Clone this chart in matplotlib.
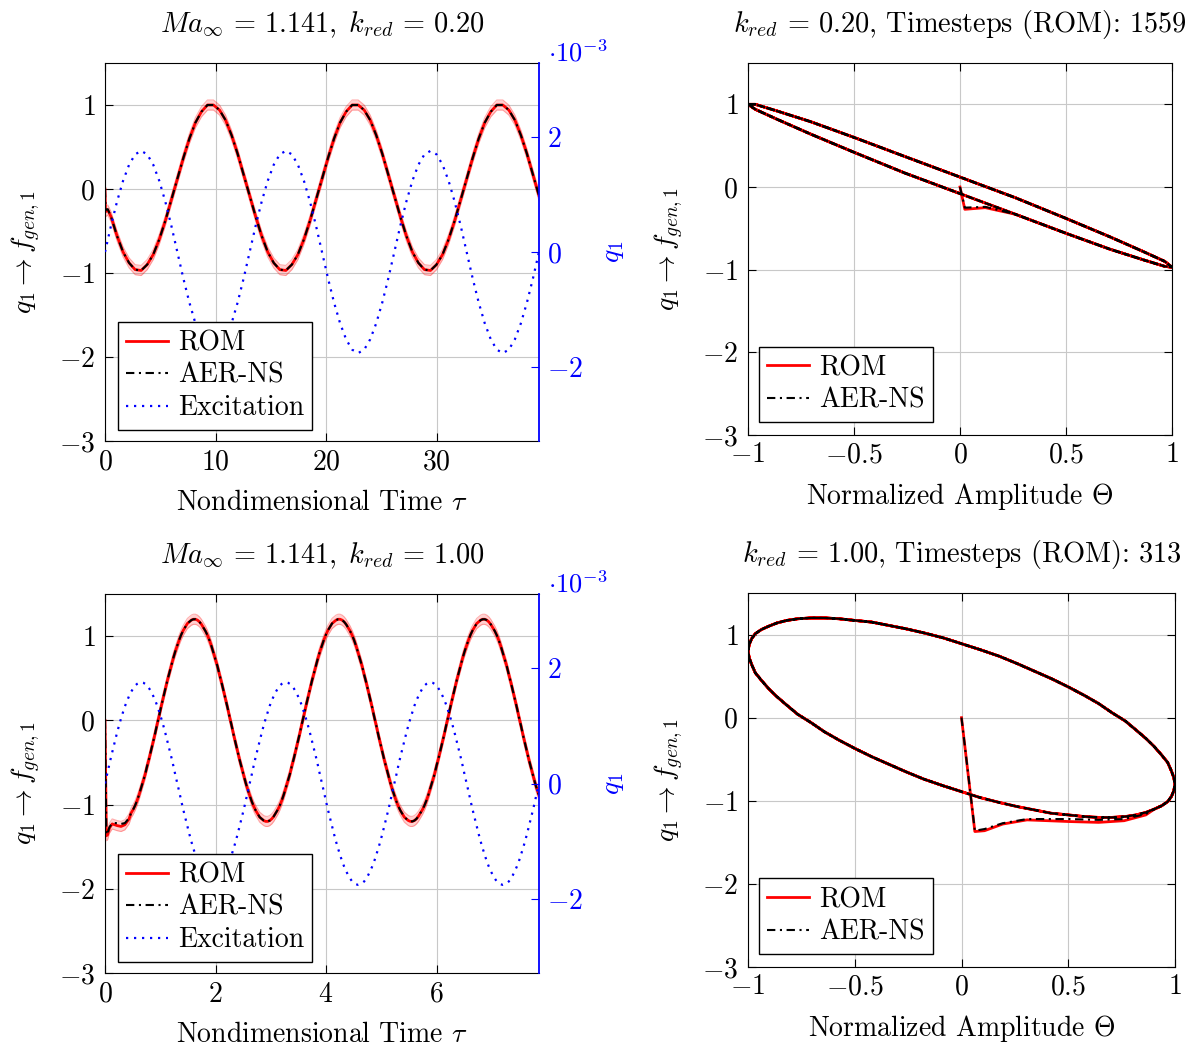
import matplotlib
matplotlib.use("Agg")
import matplotlib.pyplot as plt
import numpy as np

plt.rcParams['font.family'] = 'serif'
plt.rcParams['font.serif'] = ['cmr10']
plt.rcParams['mathtext.fontset'] = 'cm'
plt.rcParams['axes.formatter.use_mathtext'] = True
plt.rcParams['font.size'] = 20

# ---- k_red = 0.20 ------------------------------------------------------
# first samples (start-up), then regular samples every top_dt
top_dt = 0.5454
top_tau_start = [0.0, 0.05, 0.25]
top_rom_start = [0.0, -0.27, -0.25]
top_aer_start = [0.0, -0.25, -0.24]
top_exc_start = [0.0, 0.04, 0.21]          # x 1e-3
top_rom = [-0.33, -0.56, -0.75, -0.88, -0.96, -0.97, -0.90, -0.78, -0.60, -0.38, -0.13, 0.12,
           0.37, 0.60, 0.79, 0.92, 1.00, 1.00, 0.94, 0.82, 0.64, 0.42, 0.17, -0.08,
           -0.33, -0.56, -0.75, -0.88, -0.96, -0.97, -0.90, -0.78, -0.60, -0.38, -0.13, 0.12,
           0.37, 0.60, 0.79, 0.92, 1.00, 1.00, 0.94, 0.82, 0.64, 0.42, 0.17, -0.08,
           -0.33, -0.56, -0.75, -0.88, -0.96, -0.97, -0.90, -0.78, -0.60, -0.38, -0.13, 0.12,
           0.37, 0.60, 0.79, 0.92, 1.00, 1.00, 0.94, 0.82, 0.64, 0.42, 0.17, -0.08]
top_exc = [0.46, 0.88, 1.24, 1.52, 1.70, 1.76, 1.70, 1.52, 1.24, 0.88, 0.46, 0.00,
           -0.46, -0.88, -1.24, -1.52, -1.70, -1.76, -1.70, -1.52, -1.24, -0.88, -0.46, 0.00,
           0.46, 0.88, 1.24, 1.52, 1.70, 1.76, 1.70, 1.52, 1.24, 0.88, 0.46, 0.00,
           -0.46, -0.88, -1.24, -1.52, -1.70, -1.76, -1.70, -1.52, -1.24, -0.88, -0.46, 0.00,
           0.46, 0.88, 1.24, 1.52, 1.70, 1.76, 1.70, 1.52, 1.24, 0.88, 0.46, 0.00,
           -0.46, -0.88, -1.24, -1.52, -1.70, -1.76, -1.70, -1.52, -1.24, -0.88, -0.46, 0.00]
top_band = 0.06
top_tmax = 39.27

# ---- k_red = 1.00 ------------------------------------------------------
bot_dt = 0.03636
bot_tau_start = [0.0, 0.025, 0.046, 0.08, 0.13, 0.22, 0.29, 0.36, 0.436]
bot_rom_start = [0.0, -1.37, -1.36, -1.28, -1.23, -1.25, -1.26, -1.24, -1.17]
bot_aer_start = [0.0, -1.36, -1.34, -1.27, -1.22, -1.22, -1.23, -1.22, -1.16]
bot_exc_start = [0.0, 0.11, 0.19, 0.34, 0.54, 0.89, 1.13, 1.34, 1.52]
bot_rom = [-1.10, -1.06, -1.01, -0.95, -0.88, -0.80, -0.72, -0.64, -0.54, -0.45, -0.35, -0.25,
           -0.15, -0.04, 0.06, 0.17, 0.27, 0.37, 0.47, 0.56, 0.65, 0.74, 0.82,
           0.89, 0.96, 1.02, 1.07, 1.11, 1.15, 1.17, 1.19, 1.20, 1.20, 1.19, 1.17, 1.14, 1.10,
           1.06, 1.01, 0.95, 0.88, 0.80, 0.72, 0.64, 0.54, 0.45, 0.35, 0.25, 0.15, 0.04, -0.06,
           -0.17, -0.27, -0.37, -0.47, -0.56, -0.65, -0.74, -0.82,
           -0.89, -0.96, -1.02, -1.07, -1.11, -1.15, -1.17, -1.19, -1.20, -1.20, -1.19, -1.17,
           -1.14, -1.10, -1.06, -1.01, -0.95, -0.88, -0.80, -0.72, -0.64, -0.54, -0.45, -0.35,
           -0.25, -0.15, -0.04, 0.06, 0.17, 0.27, 0.37, 0.47, 0.56, 0.65, 0.74, 0.82,
           0.89, 0.96, 1.02, 1.07, 1.11, 1.15, 1.17, 1.19, 1.20, 1.20, 1.19, 1.17, 1.14, 1.10,
           1.06, 1.01, 0.95, 0.88, 0.80, 0.72, 0.64, 0.54, 0.45, 0.35, 0.25, 0.15, 0.04, -0.06,
           -0.17, -0.27, -0.37, -0.47, -0.56, -0.65, -0.74, -0.82,
           -0.89, -0.96, -1.02, -1.07, -1.11, -1.15, -1.17, -1.19, -1.20, -1.20, -1.19, -1.17,
           -1.14, -1.10, -1.06, -1.01, -0.95, -0.88, -0.80, -0.72, -0.64, -0.54, -0.45, -0.35,
           -0.25, -0.15, -0.04, 0.06, 0.17, 0.27, 0.37, 0.47, 0.56, 0.65, 0.74, 0.82,
           0.89, 0.96, 1.02, 1.07, 1.11, 1.15, 1.17, 1.19, 1.20, 1.20, 1.19, 1.17, 1.14, 1.10,
           1.06, 1.01, 0.95, 0.88, 0.80, 0.72, 0.64, 0.54, 0.45, 0.35, 0.25, 0.15, 0.04, -0.06,
           -0.17, -0.27, -0.37, -0.47, -0.56, -0.65, -0.74, -0.82,
           -0.89]
bot_exc = [1.59, 1.65, 1.70, 1.73, 1.75, 1.76, 1.75, 1.73, 1.70, 1.65, 1.59, 1.52, 1.44, 1.35,
           1.24, 1.13, 1.01, 0.88, 0.74, 0.60, 0.46, 0.31, 0.15,
           0.00, -0.15, -0.31, -0.46, -0.60, -0.74, -0.88, -1.01, -1.13, -1.24, -1.35, -1.44,
           -1.52, -1.59, -1.65, -1.70, -1.73, -1.75, -1.76, -1.75, -1.73, -1.70, -1.65, -1.59,
           -1.52, -1.44, -1.35, -1.24, -1.13, -1.01, -0.88, -0.74, -0.60, -0.46, -0.31, -0.15,
           0.00, 0.15, 0.31, 0.46, 0.60, 0.74, 0.88, 1.01, 1.13, 1.24, 1.35, 1.44,
           1.52, 1.59, 1.65, 1.70, 1.73, 1.75, 1.76, 1.75, 1.73, 1.70, 1.65, 1.59,
           1.52, 1.44, 1.35, 1.24, 1.13, 1.01, 0.88, 0.74, 0.60, 0.46, 0.31, 0.15,
           0.00, -0.15, -0.31, -0.46, -0.60, -0.74, -0.88, -1.01, -1.13, -1.24, -1.35, -1.44,
           -1.52, -1.59, -1.65, -1.70, -1.73, -1.75, -1.76, -1.75, -1.73, -1.70, -1.65, -1.59,
           -1.52, -1.44, -1.35, -1.24, -1.13, -1.01, -0.88, -0.74, -0.60, -0.46, -0.31, -0.15,
           0.00, 0.15, 0.31, 0.46, 0.60, 0.74, 0.88, 1.01, 1.13, 1.24, 1.35, 1.44,
           1.52, 1.59, 1.65, 1.70, 1.73, 1.75, 1.76, 1.75, 1.73, 1.70, 1.65, 1.59,
           1.52, 1.44, 1.35, 1.24, 1.13, 1.01, 0.88, 0.74, 0.60, 0.46, 0.31, 0.15,
           0.00, -0.15, -0.31, -0.46, -0.60, -0.74, -0.88, -1.01, -1.13, -1.24, -1.35, -1.44,
           -1.52, -1.59, -1.65, -1.70, -1.73, -1.75, -1.76, -1.75, -1.73, -1.70, -1.65, -1.59,
           -1.52, -1.44, -1.35, -1.24, -1.13, -1.01, -0.88, -0.74, -0.60, -0.46, -0.31, -0.15,
           0.00]
bot_band = 0.06
bot_tmax = 7.854

cases = [
    dict(k="0.20", steps=1559, xticks=[0, 10, 20, 30], tmax=top_tmax, band=top_band,
         tau=np.concatenate([top_tau_start, np.arange(1, len(top_rom) + 1) * top_dt]),
         rom=np.array(top_rom_start + top_rom),
         aer=np.array(top_aer_start + top_rom),
         exc=np.array(top_exc_start + top_exc)),
    dict(k="1.00", steps=313, xticks=[0, 2, 4, 6], tmax=bot_tmax, band=bot_band,
         tau=np.concatenate([bot_tau_start, np.arange(13, 13 + len(bot_rom)) * bot_dt]),
         rom=np.array(bot_rom_start + bot_rom),
         aer=np.array(bot_aer_start + bot_rom),
         exc=np.array(bot_exc_start + bot_exc)),
]

W, H = 1185, 1046
fig = plt.figure(figsize=(W / 100, H / 100), dpi=100)


def rect(l, t, r, b):
    return [l / W, 1 - b / H, (r - l) / W, (b - t) / H]


left_rects = [rect(105, 63, 539, 441), rect(105, 594, 539, 973)]
right_rects = [rect(748, 63, 1172, 435), rect(748, 593, 1175, 967)]

grid_kw = dict(color='#c8c8c8', lw=0.8)
rom_kw = dict(color='red', lw=2.0)
aer_kw = dict(color='black', lw=1.5, ls=(0, (4, 2.2, 1, 2.2)))
exc_kw = dict(color='blue', lw=1.6, ls=(0, (1, 2.6)))
leg_kw = dict(loc='lower left', fancybox=False, edgecolor='black', framealpha=1,
              borderaxespad=0, handlelength=1.5, handletextpad=0.35, labelspacing=0.22,
              borderpad=0.3, fontsize=20)
title_size = 20.4

for i, c in enumerate(cases):
    tau, rom, aer, exc = c["tau"], c["rom"], c["aer"], c["exc"]

    # time history
    ax = fig.add_axes(left_rects[i])
    ax.fill_between(tau, rom - c["band"], rom + c["band"], color='red', alpha=0.18, lw=0)
    ax.plot(tau, rom - c["band"], color='red', alpha=0.3, lw=0.8)
    ax.plot(tau, rom + c["band"], color='red', alpha=0.3, lw=0.8)
    l1, = ax.plot(tau, rom, label='ROM', **rom_kw)
    l2, = ax.plot(tau, aer, label='AER-NS', **aer_kw)
    ax.set_xlim(0, c["tmax"])
    ax.set_ylim(-3, 1.5)
    ax.set_xticks(c["xticks"])
    ax.set_yticks([-3, -2, -1, 0, 1])
    ax.grid(**grid_kw)
    ax.set_axisbelow(True)
    ax.tick_params(direction='in', length=6, width=0.8, top=True, right=False)
    ax.tick_params(axis='x', pad=6)
    ax.tick_params(axis='y', pad=7)
    ax.spines['right'].set_visible(False)
    ax.set_xlabel(r'Nondimensional Time $\tau$', labelpad=10)
    ax.set_ylabel(r'$q_1 \rightarrow f_{gen,1}$', labelpad=12)
    ax.set_title(r'$Ma_\infty\,=\,1.141,\;k_{red}\,=\,%s$' % c["k"], pad=22,
                 fontsize=title_size)

    axr = ax.twinx()
    l3, = axr.plot(tau, exc, label='Excitation', **exc_kw)
    axr.set_ylim(-3.29, 3.29)
    axr.set_yticks([-2, 0, 2])
    for s in ['left', 'top', 'bottom']:
        axr.spines[s].set_visible(False)
    axr.spines['right'].set_color('blue')
    axr.spines['right'].set_linewidth(1.3)
    axr.tick_params(axis='y', direction='in', length=6, width=0.8, colors='blue', pad=6)
    axr.set_ylabel(r'$q_1$', color='blue', rotation=90, labelpad=12)
    axr.text(1.02, 0.99, r'$\cdot 10^{-3}$', transform=axr.transAxes, color='blue',
             ha='left', va='bottom', fontsize=19)
    axr.legend(handles=[l1, l2, l3], bbox_to_anchor=(0.03, 0.03), **leg_kw)

    # phase portrait
    theta = exc / np.max(np.abs(exc))
    ax2 = fig.add_axes(right_rects[i])
    r1, = ax2.plot(theta, rom, label='ROM', **rom_kw)
    r2, = ax2.plot(theta, aer, label='AER-NS', **aer_kw)
    ax2.set_xlim(-1, 1)
    ax2.set_ylim(-3, 1.5)
    ax2.set_xticks([-1, -0.5, 0, 0.5, 1])
    ax2.set_xticklabels([r'$-1$', r'$-0.5$', r'$0$', r'$0.5$', r'$1$'])
    ax2.set_yticks([-3, -2, -1, 0, 1])
    ax2.grid(**grid_kw)
    ax2.set_axisbelow(True)
    ax2.tick_params(direction='in', length=6, width=0.8, top=True, right=True)
    ax2.tick_params(axis='x', pad=5)
    ax2.tick_params(axis='y', pad=7)
    ax2.set_xlabel(r'Normalized Amplitude $\Theta$', labelpad=9)
    ax2.set_ylabel(r'$q_1 \rightarrow f_{gen,1}$', labelpad=12)
    ax2.set_title(r'$k_{red}\,=\,%s$, Timesteps (ROM): %d' % (c["k"], c["steps"]), pad=22,
                  fontsize=title_size)
    ax2.legend(handles=[r1, r2], bbox_to_anchor=(0.026, 0.035), **leg_kw)

fig.savefig('out.png', dpi=100)
